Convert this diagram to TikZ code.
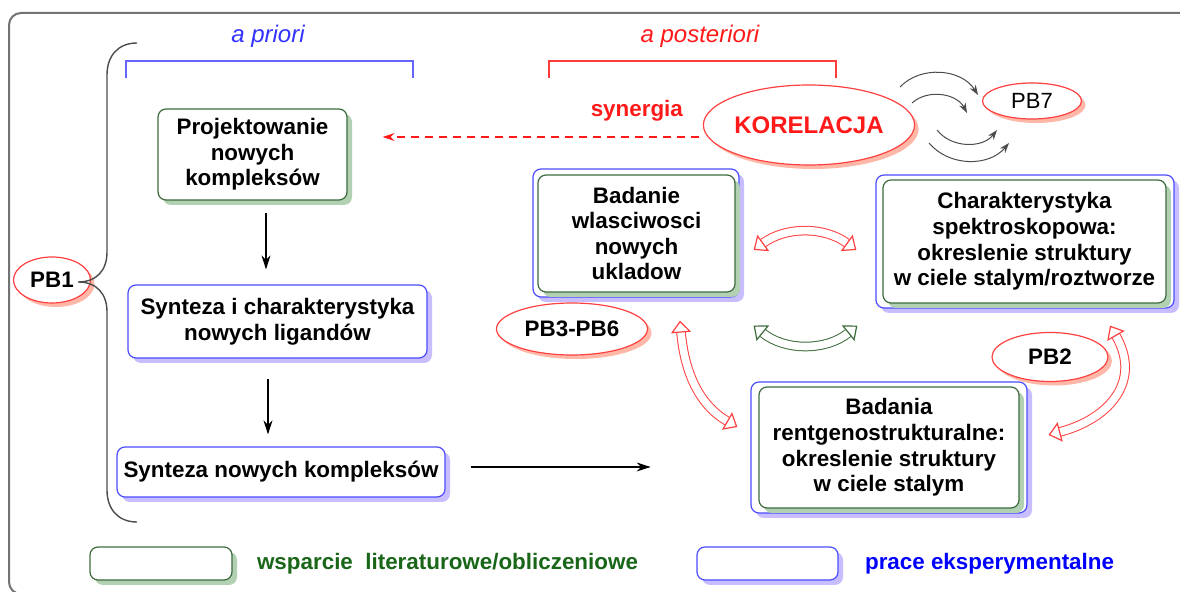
\documentclass[tikz,border=0pt]{standalone}
\usepackage{fontspec}
\setmainfont{Liberation Sans}
\usetikzlibrary{calc}
\usetikzlibrary{shapes}
\usetikzlibrary{shadows}
\usetikzlibrary{arrows.meta}
\definecolor[named]{FrameGray}{rgb}{0.45,0.45,0.45}
\definecolor[named]{BraceGray}{rgb}{0.30,0.30,0.30}
\definecolor[named]{PrioriBlue}{rgb}{0.20,0.20,1.00}
\definecolor[named]{PostRed}{rgb}{1.00,0.10,0.10}
\definecolor[named]{LitGreen}{rgb}{0.24,0.42,0.24}
\definecolor[named]{LitGreenShade}{rgb}{0.70,0.82,0.70}
\definecolor[named]{LitText}{rgb}{0.10,0.40,0.10}
\definecolor[named]{ExpBlue}{rgb}{0.30,0.30,1.00}
\definecolor[named]{ExpBlueShade}{rgb}{0.78,0.74,1.00}
\definecolor[named]{PBRed}{rgb}{1.00,0.25,0.25}
\definecolor[named]{PBRedShade}{rgb}{1.00,0.72,0.66}
\newcommand{\boxfont}{\fontsize{11.2}{12.8}\selectfont\bfseries}
\newcommand{\headfont}{\fontsize{12}{14}\selectfont\itshape}
\tikzset{
  box/.style={rectangle,rounded corners=4pt,fill=white,align=center,
    inner sep=2pt,font=\boxfont,line width=0.6pt},
  greenbox/.style={box,draw=LitGreen,
    drop shadow={fill=LitGreenShade,opacity=1,shadow xshift=2.5pt,shadow yshift=-2.5pt}},
  bluebox/.style={box,draw=ExpBlue,
    drop shadow={fill=ExpBlueShade,opacity=1,shadow xshift=2.5pt,shadow yshift=-2.5pt}},
  pb/.style={ellipse,draw=PBRed,fill=white,inner sep=0pt,font=\boxfont,line width=0.6pt,
    drop shadow={fill=PBRedShade,opacity=1,shadow xshift=2pt,shadow yshift=-2pt}},
  flow/.style={-{Stealth[length=7pt,width=4.5pt]},line width=0.6pt},
  thin flow/.style={-{Stealth[length=5pt,width=3.5pt]},line width=0.5pt,BraceGray},
  swaptip/.tip={Triangle[open,fill=white,length=6pt,width=10pt,line width=0.6pt]},
  swap/.style={line width=0.5pt,double=white,double distance=3.8pt,swaptip-swaptip},
}

\begin{document}
\begin{tikzpicture}[x=0.5pt,y=-0.5pt]
  \useasboundingbox (0,0) rectangle (1180,592);
  \draw[FrameGray,line width=1pt,rounded corners=6pt] (9,13) rectangle (1200,594);

  % Headings {{{
  \node[font=\headfont,text=PrioriBlue] (apriori) at (268,36) {a priori};
  \node[font=\headfont,text=PostRed] (aposteriori) at (700,36) {a posteriori};
  \draw[PrioriBlue!75,line width=0.6pt] (126,78) |- (413,61) -- (413,78);
  \draw[PostRed!85,line width=0.6pt] (549,78) |- (836,61) -- (836,78);
  % }}}

  % A priori {{{
  \node[greenbox,minimum width=94.5pt,minimum height=45.5pt] (proj) at (252.5,154.5)
    {Projektowanie\\nowych\\kompleksów};
  \node[bluebox,minimum width=149.5pt,minimum height=36.5pt] (lig) at (277.5,321.5)
    {Synteza i charakterystyka\\nowych ligandów};
  \node[bluebox,minimum width=164pt,minimum height=25pt] (synt) at (281,472)
    {Synteza nowych kompleksów};

  \draw[flow] ([xshift=6.75pt,yshift=-6pt]proj.south) -- ([xshift=-5.75pt,yshift=7.5pt]lig.north);
  \draw[flow] ([xshift=-4.75pt,yshift=-10pt]lig.south) -- ([xshift=-6.5pt,yshift=6pt]synt.north);
  \draw[flow] ([xshift=12.5pt,yshift=2.5pt]synt.east) -- ++(180,0);

  \node[pb,minimum width=38.5pt,minimum height=23pt] (pb1) at (52,280) {PB1};
  \draw[BraceGray,line width=0.7pt]
    (137,43) .. controls (118,43) and (107,56) .. (107,75) -- (107,252)
    .. controls (107,270) and (97,282) .. (78,282)
    .. controls (97,282) and (107,294) .. (107,312) -- (107,490)
    .. controls (107,509) and (118,522) .. (137,522);
  % }}}

  % A posteriori {{{
  \node[pb,minimum width=102pt,minimum height=40pt,text=PostRed,font=\fontsize{12}{14}\selectfont\bfseries]
    (korel) at (809,125) {KORELACJA};
  \node[pb,minimum width=49.5pt,minimum height=18pt,font=\fontsize{11}{13}\selectfont] (pb7) at (1032,101) {PB7};
  \node[pb,minimum width=75.5pt,minimum height=26pt] (pb36) at (572,329) {PB3-PB6};
  \node[pb,minimum width=58pt,minimum height=24.5pt] (pb2) at (1050,357) {PB2};

  \node[bluebox,minimum width=103pt,minimum height=64pt] (prop) at (636,233) {};
  \node[greenbox,minimum width=98.5pt,minimum height=58.5pt] at (636.5,233.5)
    {Badanie\\wlasciwosci\\nowych\\ukladow};
  \node[bluebox,minimum width=149pt,minimum height=66.5pt] (spec) at (1025,241.5) {};
  \node[greenbox,minimum width=141.5pt,minimum height=61.5pt] at (1024.5,241.5)
    {Charakterystyka\\spektroskopowa:\\okreslenie struktury\\w ciele stalym/roztworze};
  \node[bluebox,minimum width=138pt,minimum height=65.5pt] (xray) at (889,447.5) {};
  \node[greenbox,minimum width=130pt,minimum height=60.5pt] at (889,447.5)
    {Badania\\rentgenostrukturalne:\\okreslenie struktury\\w ciele stalym};

  \draw[PostRed,dash pattern=on 4pt off 3pt,line width=0.6pt,-{Stealth[length=6pt,width=4pt]}]
    ($(korel.west)+(-4,12)$) -- ($(proj.east)+(35,-17.5)$)
    node[pos=0.196,above=4pt,text=PostRed,font=\boxfont] (syn) {synergia};

  \draw[thin flow] (900,87) to[bend left=52] (978,95);
  \draw[thin flow] (912,103) to[bend left=52] (967,113);
  \draw[thin flow] (937,130) to[bend right=52] (997,130);
  \draw[thin flow] (929,143) to[bend right=50] (1009,143);

  \draw[swap,PBRed] ($(prop.east)+(14,17)$) to[bend left=36] ($(spec.west)+(-19,8.5)$);
  \draw[swap,LitGreen] ($(prop.south east)+(14,28)$) to[bend right=39] ($(spec.south west)+(-18,17)$);
  \draw[swap,PBRed] ($(prop.south)+(44,23)$) to[out=-85,in=150] ($(xray.west)+(-13,-20.5)$);
  \draw[swap,PBRed] ($(spec.south)+(85,17)$) to[out=-60,in=15,looseness=1.3] ($(xray.east)+(21,-12.5)$);
  % }}}

  % Legend {{{
  \node[greenbox,minimum width=71pt,minimum height=16.5pt] (leglit) at (161,563.5) {};
  \node[anchor=west,text=LitText,font=\boxfont] (leglittxt) at (250,564)
    {wsparcie\ \ literaturowe/obliczeniowe};
  \node[bluebox,minimum width=70.5pt,minimum height=16.5pt] (legexp) at (767.5,563.5) {};
  \node[anchor=west,text=blue,font=\boxfont] (legexptxt) at (858,564) {prace eksperymentalne};
  % }}}
\end{tikzpicture}
\end{document}
